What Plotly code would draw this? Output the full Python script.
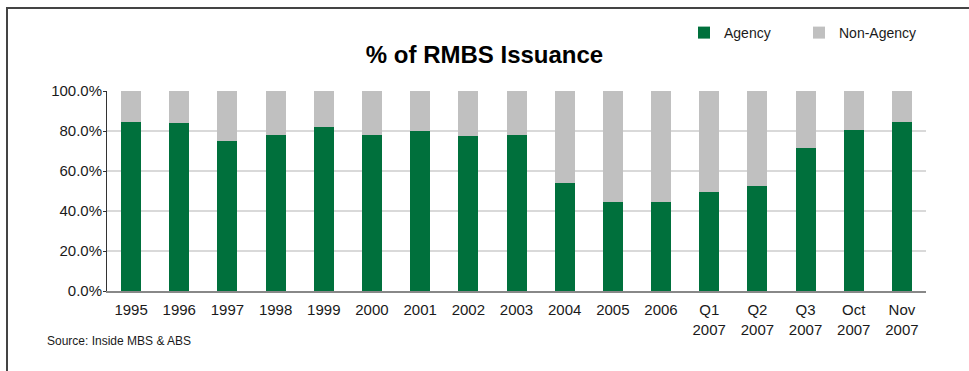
import plotly.graph_objects as go

categories = ["1995", "1996", "1997", "1998", "1999", "2000", "2001", "2002", "2003",
              "2004", "2005", "2006", "Q1<br>2007", "Q2<br>2007", "Q3<br>2007",
              "Oct<br>2007", "Nov<br>2007"]
agency = [84.5, 84.0, 75.0, 78.0, 82.0, 78.0, 80.0, 77.5, 78.0,
          54.0, 44.5, 44.5, 49.5, 52.5, 71.5, 80.5, 84.5]
non_agency = [round(100 - a, 1) for a in agency]

GREEN = "#00703c"
GRAY = "#c0c0c0"
FONT = "Liberation Sans, Arial, sans-serif"

fig = go.Figure()
fig.add_trace(go.Bar(name="Agency", x=categories, y=agency, marker_color=GREEN,
                     marker_line_width=0, legend="legend"))
fig.add_trace(go.Bar(name="Non-Agency", x=categories, y=non_agency, marker_color=GRAY,
                     marker_line_width=0, legend="legend2"))

W, H = 969, 371
L, R, T, B = 107, 43, 91, 80
pw = W - L - R
ph = H - T - B

def px_x(x):
    return (x - L) / pw

def px_y(y):
    return (H - B - y) / ph

legend_style = dict(orientation="h", xanchor="left", yanchor="top",
                    font=dict(size=14, color="#1a1a1a"), bgcolor="rgba(0,0,0,0)")

fig.update_layout(
    barmode="stack",
    bargap=0.585,
    width=W, height=H,
    margin=dict(l=L, r=R, t=T, b=B, autoexpand=False),
    paper_bgcolor="white",
    plot_bgcolor="white",
    font=dict(family=FONT, size=15, color="#1a1a1a"),
    title=dict(text="<b>% of RMBS Issuance</b>", x=0.5, xref="container", xanchor="center",
               y=1 - 55 / H, yref="container", yanchor="middle",
               font=dict(size=24, color="#000000", family=FONT)),
    legend=dict(x=px_x(684), y=px_y(17), **legend_style),
    legend2=dict(x=px_x(799), y=px_y(17), **legend_style),
    showlegend=True,
    xaxis=dict(showgrid=False, showline=True, linecolor="#888888", linewidth=2,
               ticks="", ticklabelstandoff=4, tickfont=dict(size=15, color="#1a1a1a")),
    yaxis=dict(range=[0, 100], tickvals=[0, 20, 40, 60, 80, 100],
               ticktext=["0.0%", "20.0%", "40.0%", "60.0%", "80.0%", "100.0%"],
               showgrid=True, gridcolor="#d9d9d9", gridwidth=1.5,
               showline=True, linecolor="#333333", linewidth=1,
               ticks="outside", ticklen=3, tickcolor="#333333", ticklabelstandoff=-2,
               tickfont=dict(size=15, color="#1a1a1a"), zeroline=False),
)

# outer frame (top and left edges visible)
fig.add_shape(type="line", xref="paper", yref="paper",
              x0=px_x(6), x1=px_x(969), y0=px_y(8), y1=px_y(8),
              line=dict(color="#444444", width=2))
fig.add_shape(type="line", xref="paper", yref="paper",
              x0=px_x(7), x1=px_x(7), y0=px_y(8), y1=px_y(371),
              line=dict(color="#444444", width=2))

fig.add_annotation(text="Source: Inside MBS & ABS", xref="paper", yref="paper",
                   x=px_x(45), y=px_y(341), xanchor="left", yanchor="middle",
                   showarrow=False, font=dict(size=12, color="#1a1a1a", family=FONT))

fig.write_html("out.html")
